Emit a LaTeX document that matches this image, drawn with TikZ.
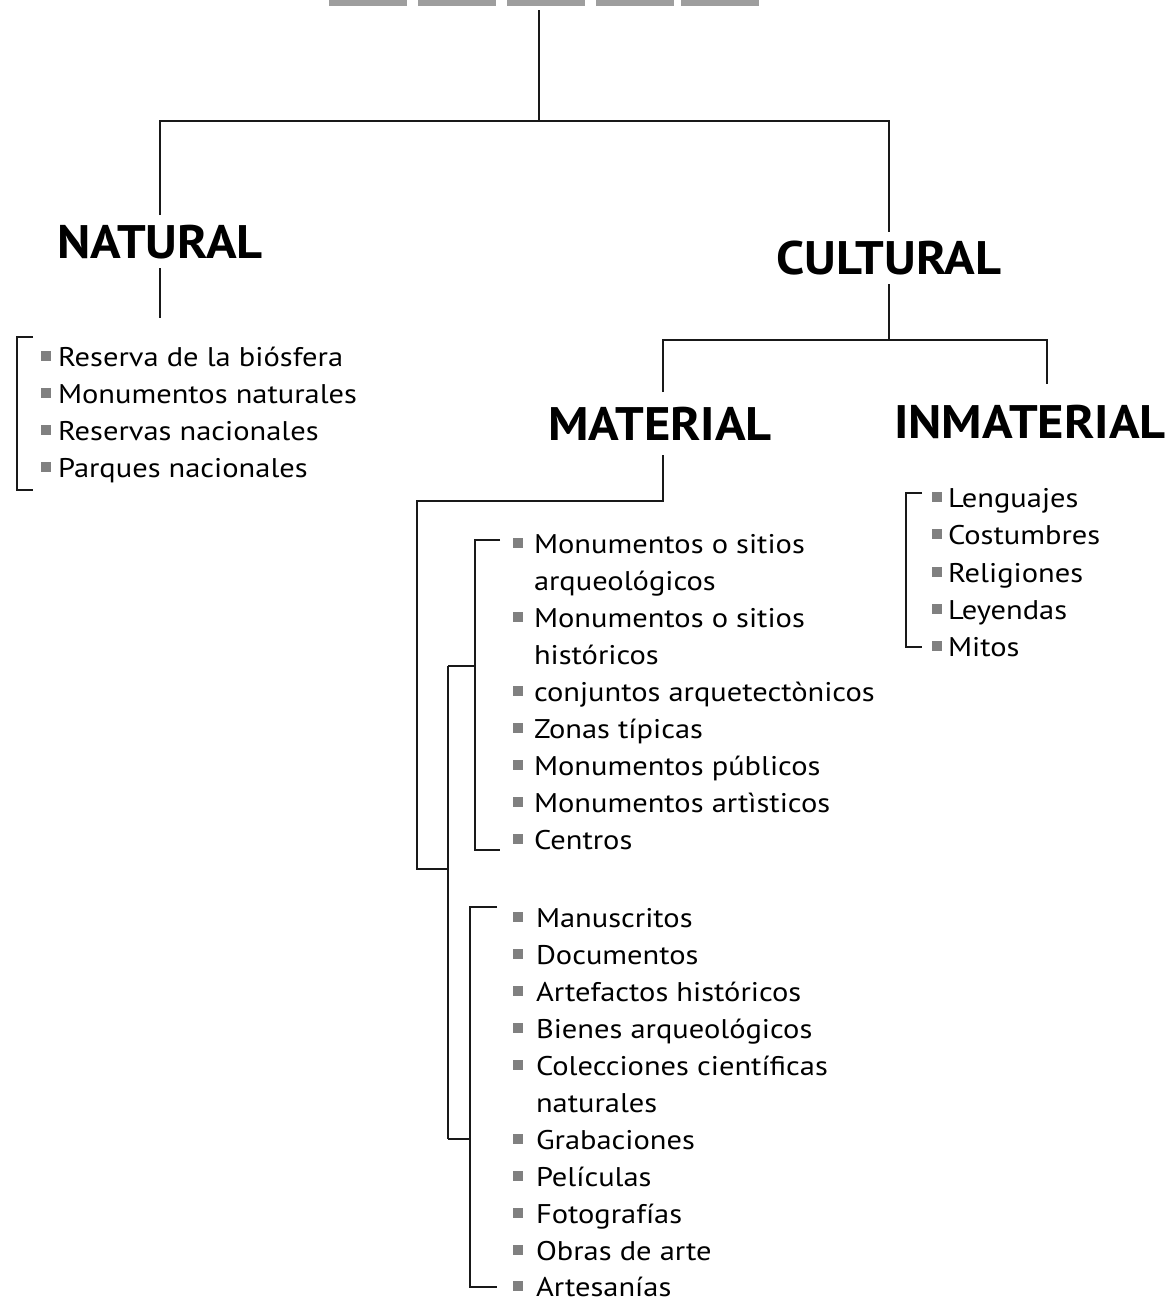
\documentclass[tikz,border=0pt]{standalone}
\usepackage{fontspec}
\setmainfont{PT Sans}
\usepackage{graphicx}
\newlength\itemw
\newlength\headw
% #1 name, #2 bullet x, #3 text x, #4 baseline, #5 text
\newcommand\bitem[5]{%
  \fill[bul] (#2,#4-15) rectangle (#2+10,#4-5);
  \node[item] (#1) at (#3,#4) {\scalebox{\isx}[1]{#5}};}
% continuation line without bullet
\newcommand\citem[4]{%
  \node[item] (#1) at (#2,#3) {\scalebox{\isx}[1]{#4}};}
\begin{document}
\settowidth\itemw{\fontsize{27pt}{30pt}\selectfont Monumentos naturales}%
\pgfmathsetmacro\isx{299/\itemw}%
\settowidth\headw{\fontsize{47pt}{50pt}\selectfont\bfseries CULTURAL}%
\pgfmathsetmacro\hsx{225/\headw}%
\begin{tikzpicture}[x=1pt,y=-1pt]
\tikzset{
  conn/.style={draw=black!90, line width=2pt},
  barbox/.style={fill=black!38, draw=none, inner sep=0pt, minimum height=6pt, minimum width=78pt, anchor=north west},
  bul/.style={fill=black!50},
  item/.style={anchor=base west, inner sep=0pt, outer sep=0pt, font=\fontsize{27pt}{30pt}\selectfont},
  head/.style={anchor=base, inner sep=0pt, outer sep=0pt, font=\fontsize{47pt}{50pt}\selectfont\bfseries},
}
\useasboundingbox[fill=white] (0,0) rectangle (1169,1301);

% top bars
\node[barbox] (bar1) at (329,0) {};
\node[barbox] (bar2) at (418,0) {};
\node[barbox] (bar3) at (507,0) {};
\node[barbox] (bar4) at (596,0) {};
\node[barbox] (bar5) at (681,0) {};

% headings
\node[head] (natural) at (160,258) {\scalebox{\hsx}[1]{NATURAL}};
\node[head] (cultural) at (889,274) {\scalebox{\hsx}[1]{CULTURAL}};
\node[head] (material) at (660,440) {\scalebox{\hsx}[1]{MATERIAL}};
\node[head] (inmaterial) at (1030,438) {\scalebox{\hsx}[1]{INMATERIAL}};

% junction coordinates
\coordinate (t0) at (539,10);
\coordinate (t1) at (539,121);
\coordinate (nA) at (160,215);
\coordinate (nB) at (160,268);
\coordinate (nC) at (160,318);
\coordinate (cA) at (889,232);
\coordinate (cB) at (889,284);
\coordinate (cJ) at (889,340);
\coordinate (mA) at (663,392);
\coordinate (iA) at (1047,384);
\coordinate (mB) at (663,455);
\coordinate (oTop) at (417,501);
\coordinate (oBot) at (417,869);
\coordinate (iJ) at (448,869);
\coordinate (iTop) at (448,666);
\coordinate (iBot) at (448,1139);
\coordinate (br1) at (475,666);
\coordinate (br2) at (470,1139);

% tree connectors
\draw[conn] (t0) -- (t1);
\draw[conn] (nA) |- (t1) -| (cA);
\draw[conn] (nB) -- (nC);
\draw[conn] (cB) -- (cJ);
\draw[conn] (mA) |- (cJ) -| (iA);
\draw[conn] (mB) |- (oTop) -- (oBot) -- (iJ);
\draw[conn] (iTop) -- (iBot);
\draw[conn] (iTop) -- (br1);
\draw[conn] (iBot) -- (br2);

% brackets
\draw[conn] (33,337) -- (17,337) -- (17,490) -- (33,490);
\draw[conn] (500,540) -- (475,540) -- (475,850) -- (500,850);
\draw[conn] (497,907) -- (470,907) -- (470,1287) -- (497,1287);
\draw[conn] (922,493) -- (906,493) -- (906,647) -- (922,647);

% NATURAL list
\bitem{n1}{41}{58}{366}{Reserva de la biósfera}
\bitem{n2}{41}{58}{403}{Monumentos naturales}
\bitem{n3}{41}{58}{440}{Reservas nacionales}
\bitem{n4}{41}{58}{477}{Parques nacionales}

% INMATERIAL list
\bitem{i1}{932}{948}{507}{Lenguajes}
\bitem{i2}{932}{948}{544}{Costumbres}
\bitem{i3}{932}{948}{582}{Religiones}
\bitem{i4}{932}{948}{619}{Leyendas}
\bitem{i5}{932}{948}{656}{Mitos}

% MATERIAL list 1
\bitem{a1}{513}{534}{553}{Monumentos o sitios}
\citem{a1b}{534}{590}{arqueológicos}
\bitem{a2}{513}{534}{627}{Monumentos o sitios}
\citem{a2b}{534}{664}{históricos}
\bitem{a3}{513}{534}{701}{conjuntos arquetectònicos}
\bitem{a4}{513}{534}{738}{Zonas típicas}
\bitem{a5}{513}{534}{775}{Monumentos públicos}
\bitem{a6}{513}{534}{812}{Monumentos artìsticos}
\bitem{a7}{513}{534}{849}{Centros}

% MATERIAL list 2
\bitem{b1}{513}{536}{927}{Manuscritos}
\bitem{b2}{513}{536}{964}{Documentos}
\bitem{b3}{513}{536}{1001}{Artefactos históricos}
\bitem{b4}{513}{536}{1038}{Bienes arqueológicos}
\bitem{b5}{513}{536}{1075}{Colecciones científicas}
\citem{b5b}{536}{1112}{naturales}
\bitem{b6}{513}{536}{1149}{Grabaciones}
\bitem{b7}{513}{536}{1186}{Películas}
\bitem{b8}{513}{536}{1223}{Fotografías}
\bitem{b9}{513}{536}{1260}{Obras de arte}
\bitem{b10}{513}{536}{1296}{Artesanías}
\end{tikzpicture}
\end{document}
